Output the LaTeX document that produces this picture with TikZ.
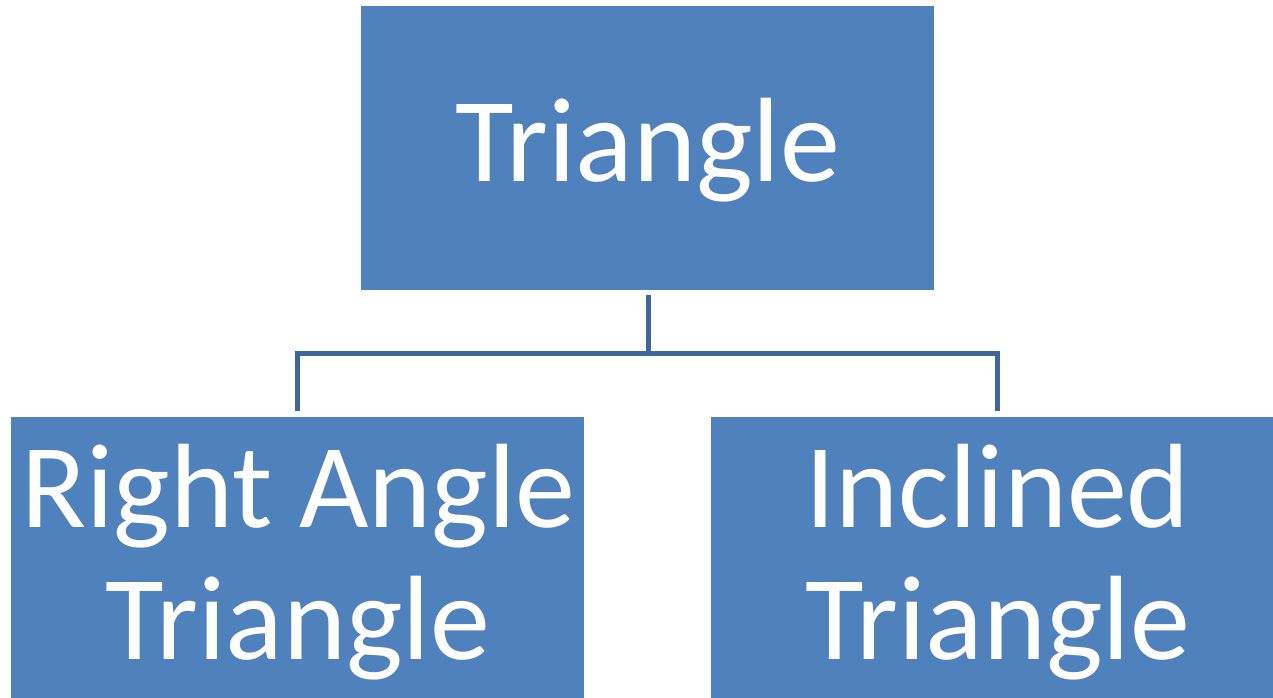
\documentclass[tikz,border=0pt]{standalone}
\usepackage{fontspec}
\setmainfont{Carlito}
\definecolor{boxfill}{HTML}{4F81BD}
\definecolor{linkline}{HTML}{3F6797}
\begin{document}
\begin{tikzpicture}[x=1pt,y=-1pt,
  box/.style={fill=boxfill,draw=none,inner sep=0pt,minimum width=573pt,minimum height=284pt},
  label/.style={text=white,anchor=base,inner sep=0pt,font=\fontsize{120}{132}\selectfont},
  link/.style={draw=linkline,line width=5pt,line join=miter}]
  \useasboundingbox (0,0) rectangle (1273,697);
  \clip (0,0) rectangle (1273,697);
  \fill[white] (0,0) rectangle (1273,697);

  % boxes
  \node[box] (top)   at (647.5,148) {};
  \node[box] (left)  at (297.5,559) {};
  \node[box] (right) at (997.5,559) {};

  % box texts
  \node[label] (topText)    at (647.5,181) {Triangle};
  \node[label] (leftText1)  at (298.5,527) {Right Angle};
  \node[label] (leftText2)  at (297.5,659) {Triangle};
  \node[label] (rightText1) at (997.5,527) {Inclined};
  \node[label] (rightText2) at (997.5,659) {Triangle};

  % connectors
  \coordinate (hub) at (648,353.5);
  \coordinate (leftDrop)  at ([yshift=6pt]left.north);
  \coordinate (rightDrop) at ([yshift=6pt]right.north);
  \draw[link] ([yshift=-5pt]top.south -| hub) -- (hub);
  \draw[link] (leftDrop) |- (hub) -| (rightDrop);
\end{tikzpicture}
\end{document}
